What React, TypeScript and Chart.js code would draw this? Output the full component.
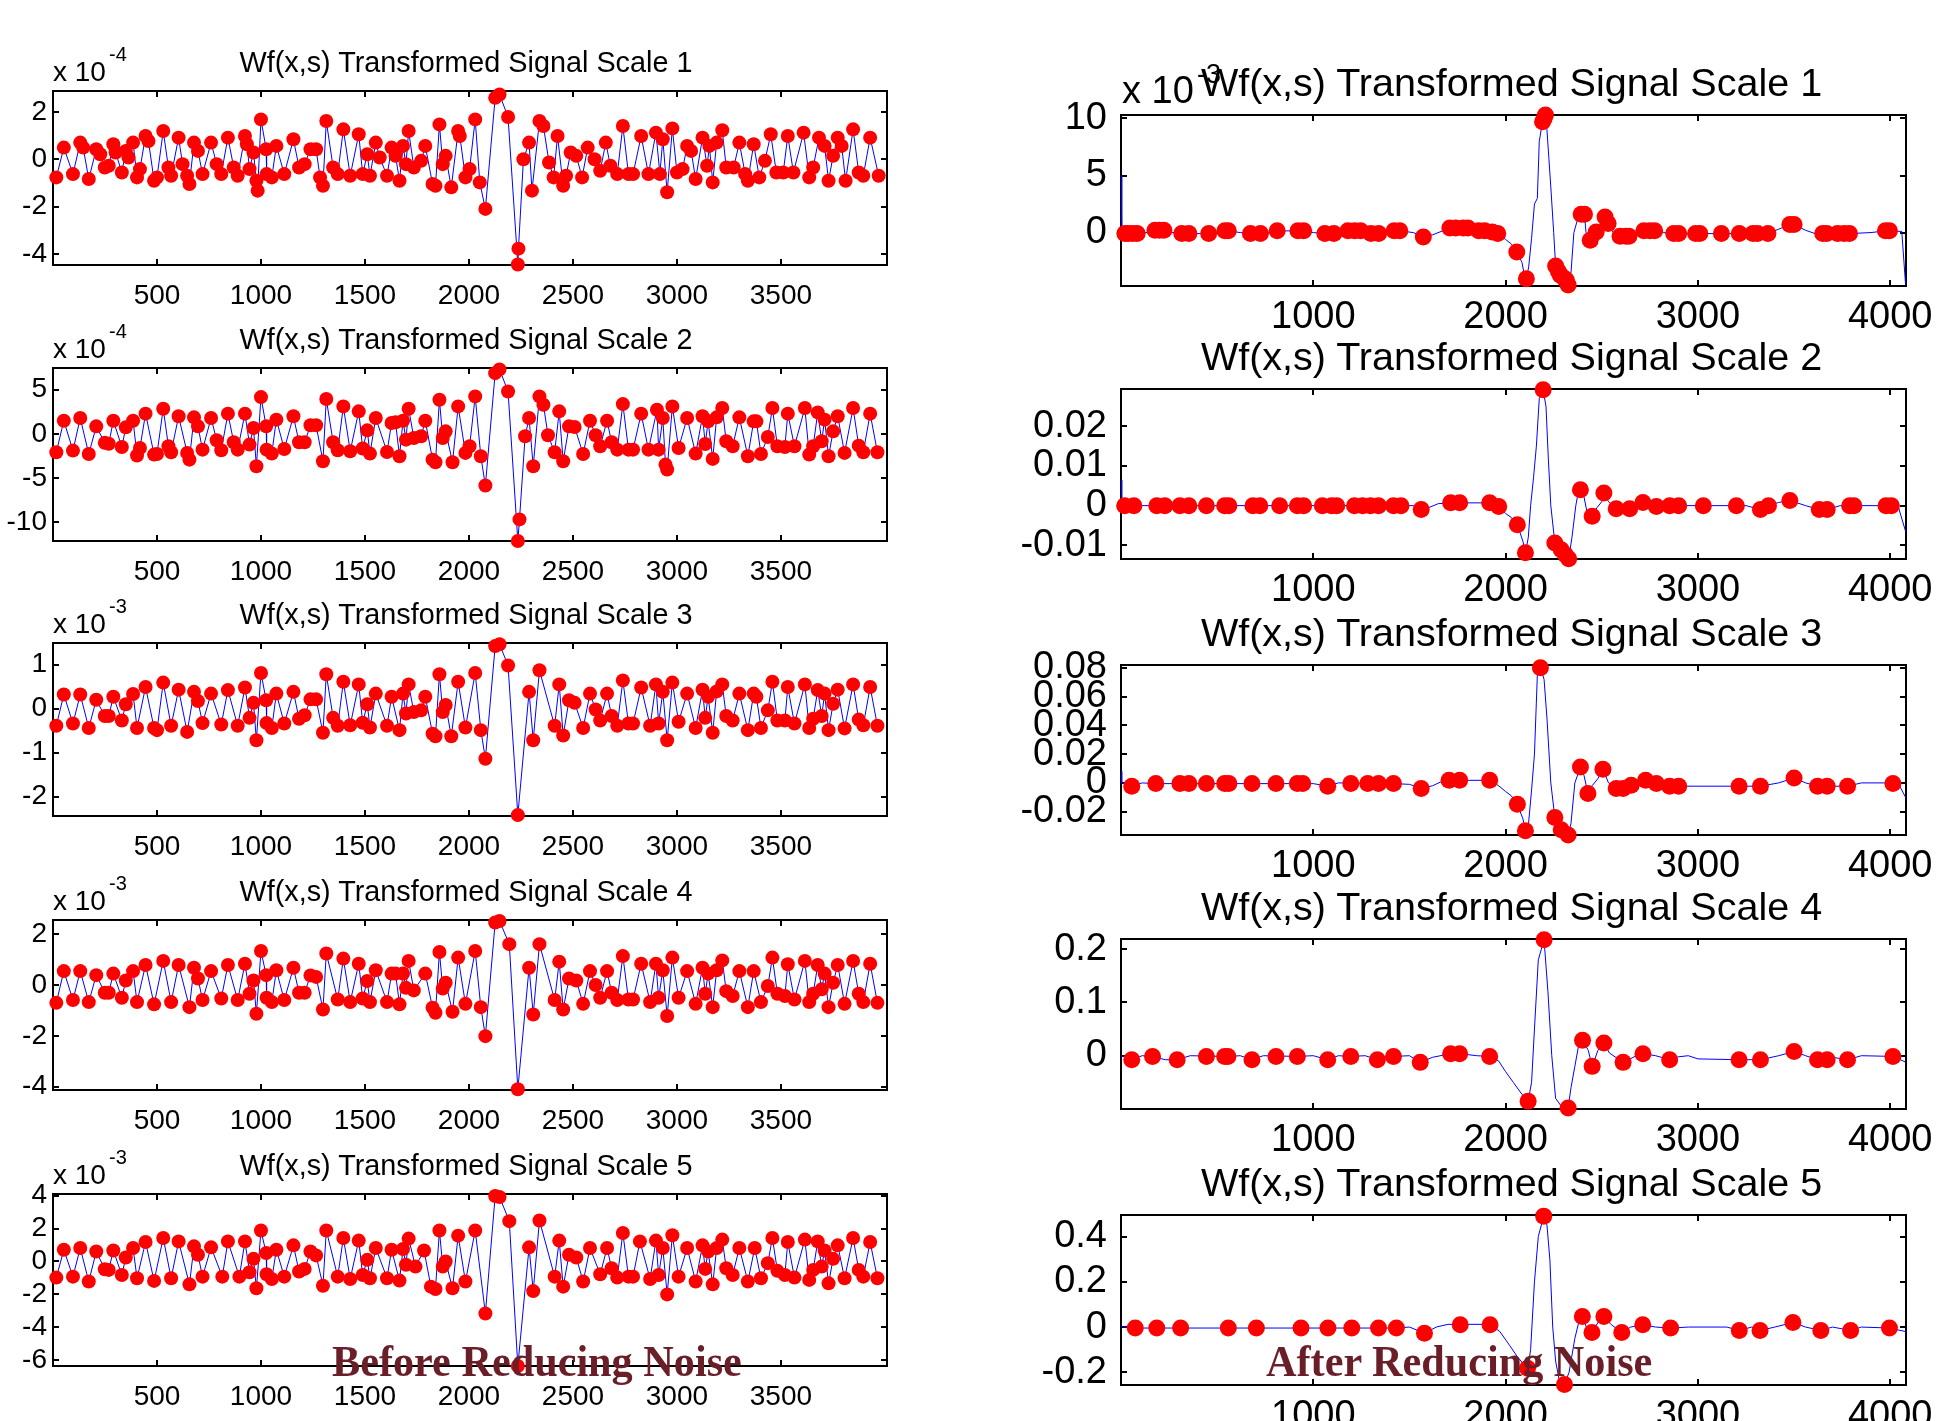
import React, { useEffect, useRef } from 'react';
import { Chart, registerables } from 'chart.js';

Chart.register(...registerables);

type Pt = [number, number];

// ---------------- Data: left column (before reducing noise), markers at local extrema ----------------
const L1_MARKERS: Pt[] = [[16,-0.77],[52,0.49],[96,-0.63],[131,0.7],[145,0.49],[172,-0.84],[208,0.42],[227,0.21],[249,-0.35],[268,-0.28],[290,0.63],[301,0.28],[331,-0.56],[350,0.35],[363,0.07],[385,0.7],[404,-0.77],[418,-0.42],[445,0.98],[459,0.77],[486,-0.91],[500,-0.77],[530,1.19],[555,-0.35],[568,-0.7],[604,0.91],[623,-0.21],[645,-0.7],[656,-1.05],[678,0.7],[697,0.35],[719,-0.63],[760,0.7],[787,-0.21],[809,-0.63],[841,0.91],[869,-0.35],[888,-0.7],[923,0.98],[932,0.63],[945,-0.42],[964,0.28],[978,-0.91],[984,-1.33],[1000,1.68],[1025,0.42],[1027,-0.63],[1052,-0.77],[1074,0.56],[1112,-0.63],[1156,0.84],[1183,-0.35],[1210,-0.21],[1238,0.42],[1265,0.42],[1284,-0.77],[1298,-1.12],[1314,1.61],[1347,-0.35],[1369,-0.63],[1396,1.26],[1429,-0.7],[1470,1.05],[1489,-0.63],[1511,0.21],[1524,-0.7],[1552,0.7],[1571,0.07],[1606,-0.7],[1628,0.49],[1647,0.14],[1666,-0.91],[1683,0.56],[1697,-0.21],[1710,1.19],[1735,-0.35],[1770,-0.07],[1790,0.56],[1825,-1.05],[1839,-1.12],[1858,1.47],[1874,-0.21],[1888,0.14],[1915,-1.19],[1948,1.19],[1956,0.98],[1983,-0.77],[2003,-0.42],[2030,1.68],[2052,-0.98],[2079,-2.1],[2126,2.59],[2147,2.73],[2188,1.78],[2235,-4.45],[2238,-3.78],[2262,0.0],[2289,0.7],[2303,-1.33],[2339,1.61],[2358,1.4],[2385,-0.14],[2407,-0.77],[2426,0.98],[2453,-1.12],[2467,-0.7],[2489,0.28],[2516,0.14],[2544,-0.77],[2571,0.49],[2604,0.0],[2631,-0.49],[2658,0.7],[2680,-0.28],[2713,-0.63],[2740,1.4],[2767,-0.63],[2789,-0.63],[2828,0.98],[2863,-0.63],[2899,1.12],[2918,-0.63],[2932,0.84],[2953,-1.4],[2978,1.3],[3000,-0.56],[3027,-0.42],[3049,0.56],[3068,0.35],[3090,-0.84],[3123,0.91],[3145,-0.28],[3156,0.56],[3172,-0.98],[3191,0.7],[3218,1.22],[3237,-0.35],[3273,-0.35],[3300,0.7],[3328,-0.63],[3341,-0.91],[3369,0.63],[3396,-0.77],[3423,-0.07],[3451,1.05],[3478,-0.56],[3511,-0.56],[3533,0.98],[3560,-0.56],[3609,1.12],[3636,-0.77],[3655,-0.35],[3683,0.91],[3710,0.56],[3729,-0.91],[3751,0.14],[3773,0.91],[3792,0.56],[3811,-0.91],[3847,1.26],[3874,-0.56],[3896,-0.7],[3929,0.91],[3970,-0.7]];

const L2_MARKERS: Pt[] = [[16,-2.07],[52,1.5],[96,-1.88],[131,1.8],[172,-2.26],[208,0.86],[249,-1.0],[268,-1.1],[290,1.5],[331,-1.47],[350,0.75],[385,1.5],[404,-2.44],[418,-1.58],[445,2.3],[486,-2.33],[500,-2.26],[530,2.86],[555,-1.39],[568,-2.07],[604,2.0],[645,-2.14],[656,-2.9],[678,1.88],[697,0.86],[719,-1.77],[760,1.8],[787,-0.71],[809,-1.84],[841,2.3],[869,-0.94],[888,-1.77],[923,2.3],[945,-1.2],[964,0.68],[978,-3.65],[1000,4.17],[1025,0.86],[1027,-1.77],[1052,-2.22],[1074,1.62],[1112,-1.69],[1156,2.0],[1183,-0.94],[1210,-0.94],[1238,0.98],[1265,0.98],[1298,-3.08],[1314,3.95],[1347,-0.94],[1369,-1.84],[1396,3.12],[1429,-1.95],[1470,2.56],[1489,-1.65],[1511,0.41],[1524,-2.22],[1552,1.8],[1606,-2.03],[1628,1.24],[1647,1.32],[1666,-2.52],[1683,1.5],[1697,-0.64],[1710,2.86],[1735,-0.45],[1770,-0.26],[1790,1.5],[1825,-2.9],[1839,-3.2],[1858,3.87],[1874,-0.45],[1888,0.3],[1921,-3.2],[1948,3.12],[1983,-2.14],[2003,-1.39],[2030,4.25],[2057,-2.52],[2079,-5.83],[2126,6.88],[2147,7.3],[2188,4.81],[2235,-12.1],[2243,-9.66],[2270,-0.26],[2289,1.8],[2309,-3.65],[2339,4.25],[2358,3.31],[2380,-0.15],[2412,-2.07],[2434,2.56],[2453,-3.08],[2481,0.86],[2508,0.79],[2549,-2.26],[2582,1.5],[2609,-0.15],[2631,-1.39],[2664,1.5],[2686,-0.94],[2713,-1.77],[2740,3.38],[2767,-1.77],[2789,-1.77],[2828,2.3],[2863,-1.77],[2904,2.74],[2912,-1.77],[2932,1.8],[2945,-3.46],[2953,-4.02],[2978,3.12],[3008,-1.58],[3049,1.8],[3090,-2.22],[3123,2.0],[3136,-1.13],[3150,1.43],[3172,-2.82],[3191,1.88],[3218,2.93],[3237,-0.83],[3268,-1.39],[3300,1.88],[3341,-2.52],[3369,1.43],[3382,1.43],[3404,-2.26],[3437,-0.34],[3459,2.93],[3483,-1.39],[3519,-1.47],[3533,2.3],[3565,-1.39],[3615,2.93],[3636,-2.33],[3655,-1.39],[3677,2.44],[3696,-0.83],[3710,1.62],[3729,-2.52],[3751,0.3],[3773,2.0],[3806,-2.14],[3847,2.93],[3874,-1.32],[3896,-2.07],[3929,2.3],[3964,-2.07]];

const L3_MARKERS: Pt[] = [[16,-0.39],[52,0.32],[96,-0.34],[131,0.32],[172,-0.44],[208,0.2],[249,-0.17],[268,-0.17],[290,0.27],[331,-0.27],[350,0.1],[385,0.33],[404,-0.44],[445,0.49],[486,-0.44],[500,-0.49],[530,0.59],[568,-0.39],[604,0.43],[645,-0.53],[678,0.38],[697,0.17],[719,-0.33],[760,0.34],[809,-0.36],[841,0.42],[888,-0.39],[923,0.48],[945,-0.21],[964,0.13],[978,-0.72],[1000,0.81],[1025,0.19],[1027,-0.33],[1052,-0.44],[1074,0.34],[1112,-0.34],[1156,0.38],[1183,-0.23],[1210,-0.15],[1238,0.21],[1265,0.21],[1298,-0.55],[1314,0.78],[1347,-0.21],[1369,-0.39],[1396,0.61],[1429,-0.38],[1470,0.55],[1489,-0.32],[1511,0.1],[1524,-0.43],[1552,0.34],[1606,-0.39],[1628,0.27],[1666,-0.49],[1683,0.34],[1697,-0.11],[1710,0.55],[1735,-0.08],[1770,-0.04],[1790,0.27],[1825,-0.57],[1839,-0.63],[1858,0.78],[1874,-0.08],[1888,0.08],[1915,-0.63],[1948,0.61],[1983,-0.43],[2030,0.81],[2057,-0.49],[2079,-1.14],[2126,1.42],[2147,1.46],[2188,0.98],[2235,-2.42],[2289,0.38],[2309,-0.72],[2339,0.87],[2412,-0.39],[2434,0.55],[2453,-0.61],[2481,0.19],[2508,0.13],[2549,-0.44],[2582,0.34],[2609,-0.02],[2631,-0.27],[2664,0.34],[2686,-0.17],[2713,-0.39],[2740,0.64],[2767,-0.34],[2789,-0.34],[2828,0.48],[2871,-0.39],[2899,0.55],[2912,-0.34],[2932,0.38],[2953,-0.72],[2978,0.59],[3008,-0.3],[3049,0.34],[3090,-0.44],[3123,0.43],[3136,-0.21],[3150,0.27],[3172,-0.55],[3191,0.39],[3218,0.55],[3237,-0.17],[3268,-0.27],[3300,0.34],[3341,-0.49],[3369,0.34],[3382,0.27],[3404,-0.44],[3437,-0.04],[3459,0.61],[3483,-0.27],[3519,-0.27],[3533,0.49],[3565,-0.34],[3615,0.55],[3636,-0.44],[3655,-0.23],[3677,0.42],[3696,-0.17],[3710,0.34],[3729,-0.49],[3751,0.11],[3773,0.43],[3806,-0.45],[3847,0.55],[3874,-0.25],[3896,-0.38],[3929,0.49],[3964,-0.39]];

const L4_MARKERS: Pt[] = [[16,-0.7],[52,0.55],[96,-0.59],[131,0.55],[172,-0.67],[208,0.39],[249,-0.3],[268,-0.3],[290,0.45],[331,-0.5],[350,0.18],[385,0.55],[404,-0.67],[445,0.79],[486,-0.76],[530,0.95],[568,-0.67],[604,0.79],[656,-0.87],[678,0.68],[697,0.26],[719,-0.59],[760,0.55],[809,-0.53],[841,0.79],[888,-0.59],[923,0.84],[945,-0.34],[964,0.18],[978,-1.13],[1000,1.34],[1025,0.39],[1027,-0.5],[1052,-0.67],[1074,0.58],[1112,-0.59],[1156,0.68],[1183,-0.3],[1210,-0.3],[1238,0.38],[1265,0.32],[1298,-0.96],[1314,1.24],[1369,-0.57],[1396,1.04],[1429,-0.67],[1470,0.84],[1489,-0.53],[1511,0.16],[1524,-0.67],[1552,0.58],[1606,-0.67],[1628,0.45],[1647,0.45],[1666,-0.76],[1683,0.45],[1697,-0.11],[1710,0.95],[1735,-0.21],[1790,0.45],[1825,-0.89],[1839,-1.09],[1858,1.3],[1874,-0.14],[1888,0.09],[1921,-1.05],[1948,1.08],[1983,-0.74],[2030,1.34],[2057,-0.87],[2079,-2.01],[2126,2.46],[2147,2.52],[2194,1.61],[2235,-4.1],[2289,0.68],[2309,-1.16],[2339,1.61],[2412,-0.59],[2434,0.92],[2453,-0.96],[2481,0.26],[2516,0.18],[2549,-0.74],[2582,0.55],[2609,0.0],[2631,-0.5],[2664,0.55],[2686,-0.3],[2713,-0.59],[2740,1.14],[2767,-0.57],[2789,-0.57],[2828,0.84],[2871,-0.67],[2899,0.84],[2912,-0.5],[2932,0.58],[2953,-1.22],[2978,1.08],[3008,-0.5],[3049,0.55],[3090,-0.74],[3123,0.68],[3136,-0.34],[3150,0.45],[3172,-0.87],[3191,0.58],[3218,0.97],[3237,-0.24],[3268,-0.43],[3300,0.55],[3341,-0.87],[3369,0.55],[3404,-0.67],[3437,-0.04],[3459,1.08],[3483,-0.34],[3519,-0.43],[3533,0.82],[3565,-0.57],[3615,0.95],[3636,-0.67],[3655,-0.34],[3677,0.79],[3696,-0.17],[3710,0.45],[3729,-0.87],[3751,0.09],[3773,0.79],[3806,-0.74],[3847,0.95],[3874,-0.34],[3896,-0.67],[3929,0.84],[3964,-0.7]];

const L5_MARKERS: Pt[] = [[16,-0.98],[52,0.71],[96,-0.92],[131,0.82],[172,-1.22],[208,0.61],[249,-0.47],[268,-0.51],[290,0.67],[331,-0.82],[350,0.24],[385,0.82],[404,-1.02],[445,1.18],[486,-1.18],[530,1.43],[568,-1.02],[604,1.22],[656,-1.39],[678,0.92],[697,0.41],[719,-0.92],[760,0.86],[814,-0.92],[841,1.22],[896,-0.92],[923,1.22],[945,-0.65],[964,0.16],[978,-1.63],[1000,1.88],[1025,0.51],[1027,-0.78],[1052,-1.06],[1074,0.71],[1112,-0.92],[1156,0.98],[1183,-0.61],[1210,-0.45],[1238,0.61],[1265,0.37],[1298,-1.47],[1314,1.88],[1369,-0.92],[1396,1.43],[1429,-1.06],[1470,1.27],[1489,-0.82],[1511,0.1],[1524,-1.02],[1552,0.82],[1606,-1.02],[1628,0.71],[1666,-1.16],[1683,0.76],[1697,-0.2],[1710,1.39],[1743,-0.31],[1784,0.67],[1817,-1.53],[1839,-1.67],[1858,1.88],[1874,-0.31],[1888,0.0],[1921,-1.63],[1948,1.57],[1983,-1.22],[2030,1.88],[2079,-3.16],[2126,3.98],[2147,3.92],[2194,2.45],[2235,-6.35],[2289,0.86],[2309,-1.8],[2339,2.49],[2412,-0.92],[2434,1.27],[2453,-1.53],[2481,0.41],[2516,0.24],[2549,-1.22],[2582,0.82],[2631,-0.78],[2664,0.82],[2686,-0.41],[2713,-0.98],[2740,1.73],[2767,-0.92],[2789,-0.92],[2822,1.22],[2871,-1.06],[2899,1.27],[2912,-0.82],[2932,0.82],[2953,-2.0],[2978,1.59],[3008,-0.92],[3049,0.82],[3090,-1.22],[3123,0.98],[3136,-0.45],[3150,0.61],[3172,-1.39],[3191,0.82],[3218,1.33],[3237,-0.41],[3268,-0.82],[3300,0.82],[3341,-1.22],[3374,0.82],[3404,-1.02],[3437,-0.1],[3459,1.43],[3483,-0.57],[3519,-0.82],[3533,1.18],[3565,-0.98],[3615,1.33],[3636,-1.12],[3655,-0.51],[3677,1.22],[3696,-0.31],[3710,0.67],[3729,-1.33],[3751,0.16],[3773,0.98],[3806,-1.02],[3847,1.43],[3874,-0.51],[3896,-0.92],[3929,1.18],[3964,-1.02]];

// ---------------- Data: right column (after reducing noise) ----------------
const R1_LINE: Pt[] = [[0,5.0],[4,0.0],[20,-0.09],[84,-0.09],[130,0.0],[177,0.2],[223,0.2],[270,0.0],[316,-0.09],[456,-0.09],[500,0.0],[540,0.15],[558,0.15],[620,0.0],[673,-0.09],[725,-0.09],[770,0.0],[812,0.15],[950,0.15],[1000,0.0],[1060,-0.09],[1107,-0.09],[1150,0.0],[1180,0.15],[1246,0.15],[1280,0.0],[1340,-0.09],[1380,0.0],[1420,0.15],[1450,0.15],[1520,0.0],[1572,-0.38],[1620,-0.2],[1680,0.2],[1710,0.41],[1804,0.41],[1860,0.15],[1930,0.05],[1959,-0.09],[2000,-0.6],[2030,-1.0],[2058,-1.7],[2085,-2.6],[2095,-3.5],[2108,-4.04],[2120,-3.0],[2135,-0.5],[2150,2.5],[2165,3.0],[2175,8.0],[2192,9.71],[2207,10.3],[2215,9.0],[2225,6.5],[2235,4.0],[2250,0.0],[2260,-2.92],[2285,-3.74],[2325,-4.6],[2340,-3.5],[2355,0.0],[2375,1.2],[2393,1.61],[2410,1.61],[2418,0.0],[2440,-0.67],[2460,-0.3],[2471,0.06],[2490,0.5],[2517,1.37],[2533,0.79],[2560,0.0],[2595,-0.32],[2641,-0.32],[2680,0.0],[2719,0.15],[2775,0.15],[2820,0.0],[2874,-0.09],[3364,-0.09],[3420,0.3],[3478,0.7],[3500,0.7],[3560,0.2],[3610,-0.09],[3788,-0.09],[3900,0.0],[3975,0.15],[3996,0.15],[4060,0.1],[4080,-4.6]];
const R1_MARKERS: Pt[] = [[20,-0.09],[37,-0.09],[60,-0.09],[84,-0.09],[177,0.2],[200,0.2],[223,0.2],[316,-0.09],[353,-0.09],[456,-0.09],[540,0.15],[558,0.15],[673,-0.09],[725,-0.09],[812,0.15],[920,0.15],[950,0.15],[1060,-0.09],[1107,-0.09],[1180,0.15],[1215,0.15],[1246,0.15],[1300,-0.09],[1340,-0.09],[1420,0.15],[1450,0.15],[1572,-0.38],[1710,0.41],[1740,0.41],[1780,0.41],[1804,0.41],[1860,0.15],[1891,0.15],[1930,0.05],[1959,-0.09],[2058,-1.7],[2108,-4.04],[2192,9.71],[2200,10.0],[2207,10.3],[2260,-2.92],[2275,-3.4],[2285,-3.74],[2305,-4.0],[2316,-4.18],[2325,-4.6],[2393,1.61],[2410,1.61],[2440,-0.67],[2471,0.06],[2517,1.37],[2533,0.79],[2595,-0.32],[2625,-0.32],[2641,-0.32],[2719,0.15],[2750,0.15],[2775,0.15],[2874,-0.09],[2900,-0.09],[2988,-0.09],[3010,-0.09],[3122,-0.09],[3215,-0.09],[3286,-0.09],[3310,-0.09],[3364,-0.09],[3478,0.7],[3500,0.7],[3649,-0.09],[3670,-0.09],[3726,-0.09],[3760,-0.09],[3788,-0.09],[3975,0.15],[3996,0.15]];

const R2_LINE: Pt[] = [[0,0.0065],[4,0],[1520,0],[1561,-0.001],[1600,-0.0005],[1650,0.0005],[1714,0.0007],[1917,0.0007],[1964,-0.0002],[2000,-0.002],[2030,-0.003],[2061,-0.0048],[2090,-0.009],[2103,-0.0119],[2118,-0.008],[2130,0.0],[2145,0.007],[2160,0.015],[2175,0.027],[2195,0.0292],[2210,0.025],[2222,0.012],[2235,0.0],[2256,-0.0094],[2289,-0.0111],[2311,-0.0124],[2328,-0.0134],[2345,-0.008],[2365,0.0],[2380,0.004],[2400,0.004],[2425,-0.002],[2450,-0.0027],[2475,-0.0005],[2500,0.001],[2511,0.0032],[2535,0.001],[2575,-0.0008],[2645,-0.0008],[2680,0.0],[2714,0.0008],[2784,-0.0002],[2853,0],[3250,0],[3325,-0.001],[3367,0],[3420,0.0008],[3478,0.0013],[3560,0.0],[3631,-0.001],[3672,-0.001],[3740,0.0],[4040,0],[4080,-0.0065]];
const R2_MARKERS: Pt[] = [[19,0],[67,0],[186,0],[228,0],[306,0],[353,0],[444,0],[539,0],[561,0],[686,0],[722,0],[825,0],[917,0],[950,0],[1047,0],[1095,0],[1122,0],[1214,0],[1256,0],[1297,0],[1339,0],[1417,0],[1456,0],[1561,-0.001],[1714,0.0007],[1761,0.0007],[1917,0.0007],[1964,-0.0002],[2061,-0.0048],[2103,-0.0119],[2195,0.0292],[2256,-0.0094],[2289,-0.0111],[2311,-0.0124],[2328,-0.0134],[2389,0.004],[2450,-0.0027],[2511,0.0032],[2575,-0.0008],[2645,-0.0008],[2714,0.0008],[2784,-0.0002],[2853,0],[2900,0],[3028,0],[3200,0],[3325,-0.001],[3367,0],[3478,0.0013],[3631,-0.001],[3672,-0.001],[3789,0],[3811,0],[3978,0],[4006,0]];

const R3_LINE: Pt[] = [[0,0.008],[4,0],[56,-0.0023],[110,0],[181,-0.0005],[1000,-0.0005],[1075,-0.0023],[1130,0],[1417,-0.0005],[1500,-0.001],[1561,-0.0039],[1620,-0.002],[1660,0.0005],[1706,0.0018],[1917,0.0018],[1964,-0.002],[2000,-0.006],[2030,-0.009],[2061,-0.0149],[2090,-0.025],[2103,-0.0333],[2118,-0.03],[2135,-0.005],[2150,0.02],[2165,0.075],[2181,0.08],[2200,0.072],[2215,0.045],[2235,0.0],[2256,-0.0241],[2289,-0.0326],[2325,-0.0362],[2340,-0.028],[2360,0.0],[2389,0.011],[2408,0.005],[2428,-0.0074],[2450,-0.002],[2480,0.003],[2506,0.0094],[2535,0.0],[2575,-0.0039],[2611,-0.0039],[2653,-0.0016],[2700,0.001],[2728,0.0018],[2784,-0.0005],[2853,-0.0023],[3325,-0.0023],[3420,0.0],[3500,0.0034],[3560,0.0],[3622,-0.0023],[3778,-0.0023],[3850,0.0],[4040,0.0],[4080,-0.01]];
const R3_MARKERS: Pt[] = [[56,-0.0023],[181,-0.0005],[306,-0.0005],[353,-0.0005],[444,-0.0005],[539,-0.0005],[561,-0.0005],[681,-0.0005],[806,-0.0005],[917,-0.0005],[945,-0.0005],[1075,-0.0023],[1195,-0.0005],[1283,-0.0005],[1339,-0.0005],[1417,-0.0005],[1561,-0.0039],[1706,0.0018],[1761,0.0018],[1917,0.0018],[2061,-0.0149],[2103,-0.0333],[2181,0.08],[2256,-0.0241],[2289,-0.0326],[2325,-0.0362],[2389,0.011],[2428,-0.0074],[2506,0.0094],[2575,-0.0039],[2611,-0.0039],[2653,-0.0016],[2728,0.0018],[2784,-0.0005],[2853,-0.0023],[2900,-0.0023],[3214,-0.0023],[3325,-0.0023],[3500,0.0034],[3622,-0.0023],[3672,-0.0023],[3778,-0.0023],[4014,-0.0005]];

const R4_LINE: Pt[] = [[0,0.0],[56,-0.0075],[110,0.0],[164,-0.0013],[230,-0.0075],[292,-0.0075],[360,0.0],[556,-0.0013],[620,0.0],[681,-0.0075],[740,0.0],[917,-0.0013],[1000,0.0],[1075,-0.0075],[1130,0.0],[1195,-0.0013],[1270,0.0],[1333,-0.0075],[1417,-0.0013],[1500,0.0],[1556,-0.0125],[1620,-0.003],[1714,0.0038],[1761,0.0038],[1850,0.0],[1917,-0.0013],[1964,-0.01],[2000,-0.03],[2040,-0.05],[2080,-0.07],[2117,-0.0856],[2135,-0.05],[2150,0.05],[2170,0.18],[2200,0.2175],[2220,0.12],[2240,0.0],[2260,-0.08],[2290,-0.095],[2325,-0.098],[2340,-0.06],[2360,-0.02],[2380,0.02],[2400,0.029],[2430,0.01],[2450,-0.02],[2480,0.01],[2511,0.024],[2540,0.005],[2611,-0.0125],[2680,0.0],[2714,0.0038],[2780,0.0],[2853,-0.0075],[2900,-0.002],[2950,0.0],[3000,-0.006],[3214,-0.0075],[3325,-0.0075],[3420,0.0],[3500,0.008],[3560,0.0],[3622,-0.0075],[3700,-0.003],[3778,-0.0075],[3850,0.0],[4014,-0.0013],[4080,-0.012]];
const R4_MARKERS: Pt[] = [[56,-0.0075],[164,-0.0013],[292,-0.0075],[444,-0.0013],[539,-0.0013],[556,-0.0013],[681,-0.0075],[806,-0.0013],[917,-0.0013],[1075,-0.0075],[1195,-0.0013],[1333,-0.0075],[1417,-0.0013],[1556,-0.0125],[1714,0.0038],[1761,0.0038],[1917,-0.0013],[2117,-0.0856],[2200,0.2175],[2325,-0.098],[2400,0.029],[2450,-0.02],[2511,0.024],[2611,-0.0125],[2714,0.0038],[2853,-0.0075],[3214,-0.0075],[3325,-0.0075],[3500,0.008],[3622,-0.0075],[3672,-0.0075],[3778,-0.0075],[4014,-0.0013]];

const R5_LINE: Pt[] = [[0,0.005],[10,0.0],[74,-0.0044],[1432,-0.0044],[1500,0.0],[1578,-0.027],[1640,0.0],[1700,0.012],[1919,0.012],[1970,-0.02],[2020,-0.08],[2060,-0.13],[2090,-0.16],[2114,-0.19],[2130,-0.1],[2150,0.2],[2170,0.4],[2198,0.49],[2215,0.45],[2230,0.3],[2245,0.0],[2260,-0.15],[2280,-0.24],[2306,-0.254],[2330,-0.2],[2360,-0.05],[2380,0.02],[2399,0.047],[2420,0.0],[2449,-0.024],[2480,0.02],[2511,0.047],[2550,0.01],[2604,-0.024],[2650,0.0],[2713,0.0104],[2780,0.0],[2858,-0.0044],[2950,0.0],[3150,0.0],[3215,-0.015],[3280,0.0],[3323,-0.015],[3400,0.0],[3494,0.02],[3560,0.0],[3639,-0.015],[3700,0.0],[3794,-0.015],[3850,0.0],[3996,-0.0044],[4080,-0.02]];
const R5_MARKERS: Pt[] = [[74,-0.0044],[186,-0.0044],[310,-0.0044],[558,-0.0044],[704,-0.0044],[936,-0.0044],[1076,-0.0044],[1200,-0.0044],[1339,-0.0044],[1432,-0.0044],[1578,-0.027],[1764,0.0104],[1919,0.0104],[2114,-0.182],[2198,0.49],[2306,-0.254],[2399,0.047],[2449,-0.024],[2511,0.047],[2604,-0.024],[2713,0.0104],[2858,-0.0044],[3215,-0.015],[3323,-0.015],[3494,0.02],[3639,-0.015],[3794,-0.015],[3996,-0.0044]];

// ---------------- Axes / tick labels ----------------
const LEFT_X_RANGE = [0, 4010];
const RIGHT_X_RANGE = [0, 4082];
const LEFT_X_TICKS = [500, 1000, 1500, 2000, 2500, 3000, 3500];
const RIGHT_X_TICKS = [1000, 2000, 3000, 4000];

const LEFT_Y_RANGES: Pt[] = [[-4.47, 2.88], [-12.1, 7.46], [-2.44, 1.49], [-4.13, 2.56], [-6.35, 4.1]];
const LEFT_Y_TICKS = [[-4, -2, 0, 2], [-10, -5, 0, 5], [-2, -1, 0, 1], [-4, -2, 0, 2], [-6, -4, -2, 0, 2, 4]];
const LEFT_EXPONENTS = ['-4', '-4', '-3', '-3', '-3'];

const RIGHT_Y_RANGES: Pt[] = [[-4.68, 10.3], [-0.01345, 0.0294], [-0.0362, 0.0819], [-0.1, 0.219], [-0.256, 0.495]];
const RIGHT_Y_TICKS = [[0, 5, 10], [-0.01, 0, 0.01, 0.02], [-0.02, 0, 0.02, 0.04, 0.06, 0.08], [0, 0.1, 0.2], [-0.2, 0, 0.2, 0.4]];
const RIGHT_EXPONENTS = ['-3', '', '', '', ''];

const TITLE_TEXT = 'Wf(x,s) Transformed Signal Scale';
const SCALES = [1, 2, 3, 4, 5];
const CAPTION_BEFORE = 'Before Reducing Noise';
const CAPTION_AFTER = 'After Reducing Noise';

const LEFT_MARKERS = [L1_MARKERS, L2_MARKERS, L3_MARKERS, L4_MARKERS, L5_MARKERS];
const RIGHT_LINES = [R1_LINE, R2_LINE, R3_LINE, R4_LINE, R5_LINE];
const RIGHT_MARKERS = [R1_MARKERS, R2_MARKERS, R3_MARKERS, R4_MARKERS, R5_MARKERS];

// ---------------- Layout (page pixels) ----------------
const LEFT_PLOT_X = [53, 887];
const LEFT_PLOT_Y = [[91, 265], [368, 541], [643, 816], [920, 1090], [1194, 1366]];
const RIGHT_PLOT_X = [1121, 1906];
const RIGHT_PLOT_Y = [[115, 286], [389, 559], [665, 835], [939, 1109], [1215, 1385]];

const FONT = '"Liberation Sans", Arial, Helvetica, sans-serif';

interface SideStyle {
  axisW: number; padTop: number; padRight: number; axisH: number;
  tickFont: number; yPad: number; xPad: number; radius: number;
}
const LEFT_STYLE: SideStyle = { axisW: 52, padTop: 22, padRight: 14, axisH: 54, tickFont: 28, yPad: 6, xPad: 14, radius: 7 };
const RIGHT_STYLE: SideStyle = { axisW: 130, padTop: 28, padRight: 36, axisH: 62, tickFont: 38, yPad: 14, xPad: 9, radius: 8.5 };

const boxPlugin = {
  id: 'matlabBox',
  beforeDatasetsDraw(chart: any) {
    const { ctx, chartArea } = chart;
    const { left, top, right, bottom } = chartArea;
    const xs = chart.scales.x;
    const ys = chart.scales.y;
    const tl = 6;
    ctx.save();
    ctx.strokeStyle = '#000';
    ctx.lineWidth = 2;
    ctx.strokeRect(left, top, right - left, bottom - top);
    ctx.beginPath();
    xs.ticks.forEach((t: any) => {
      const px = Math.round(xs.getPixelForValue(t.value));
      ctx.moveTo(px, bottom); ctx.lineTo(px, bottom - tl);
      ctx.moveTo(px, top); ctx.lineTo(px, top + tl);
    });
    ys.ticks.forEach((t: any) => {
      const py = Math.round(ys.getPixelForValue(t.value));
      ctx.moveTo(left, py); ctx.lineTo(left + tl, py);
      ctx.moveTo(right, py); ctx.lineTo(right - tl, py);
    });
    ctx.stroke();
    ctx.restore();
  },
};

interface PanelProps {
  line: Pt[]; markers: Pt[];
  xRange: number[]; xTicks: number[];
  yRange: Pt; yTicks: number[];
  px: number[]; py: number[]; st: SideStyle;
}

function Panel(p: PanelProps) {
  const ref = useRef<HTMLCanvasElement | null>(null);
  const { st } = p;
  const cl = p.px[0] - st.axisW;
  const ct = p.py[0] - st.padTop;
  const cw = p.px[1] - p.px[0] + st.axisW + st.padRight;
  const ch = p.py[1] - p.py[0] + st.padTop + st.axisH;

  useEffect(() => {
    if (!ref.current) return;
    const zeroPad = (s: any) => { s.paddingLeft = 0; s.paddingRight = 0; s.paddingTop = 0; s.paddingBottom = 0; };
    const chart = new Chart(ref.current, {
      type: 'line',
      data: {
        datasets: [
          {
            data: p.markers.map(([x, y]) => ({ x, y })),
            showLine: false,
            pointRadius: st.radius,
            pointHoverRadius: st.radius,
            pointBackgroundColor: '#ff0000',
            pointBorderColor: '#ff0000',
            pointBorderWidth: 0,
            clip: false,
            order: 1,
          } as any,
          {
            data: p.line.map(([x, y]) => ({ x, y })),
            borderColor: '#0000ff',
            borderWidth: 1,
            pointRadius: 0,
            fill: false,
            tension: 0,
            order: 2,
          } as any,
        ],
      },
      options: {
        animation: false,
        responsive: false,
        maintainAspectRatio: false,
        devicePixelRatio: 1,
        events: [],
        layout: { padding: { top: st.padTop, right: st.padRight, left: 0, bottom: 0 } },
        plugins: { legend: { display: false }, tooltip: { enabled: false }, title: { display: false } },
        scales: {
          x: {
            type: 'linear',
            min: p.xRange[0],
            max: p.xRange[1],
            afterBuildTicks: (s: any) => { s.ticks = p.xTicks.map((v) => ({ value: v })); },
            afterFit: (s: any) => { s.height = st.axisH; zeroPad(s); },
            grid: { display: false, drawTicks: false },
            border: { display: false },
            ticks: {
              autoSkip: false, maxRotation: 0, minRotation: 0,
              padding: st.xPad, color: '#000',
              font: { family: FONT, size: st.tickFont },
              callback: (v: any) => String(v),
            },
          },
          y: {
            type: 'linear',
            min: p.yRange[0],
            max: p.yRange[1],
            afterBuildTicks: (s: any) => { s.ticks = p.yTicks.map((v) => ({ value: v })); },
            afterFit: (s: any) => { s.width = st.axisW; zeroPad(s); },
            grid: { display: false, drawTicks: false },
            border: { display: false },
            ticks: {
              autoSkip: false, padding: st.yPad, color: '#000',
              font: { family: FONT, size: st.tickFont },
              callback: (v: any) => String(v),
            },
          },
        },
      } as any,
      plugins: [boxPlugin],
    });
    return () => chart.destroy();
  }, []);

  return (
    <canvas
      ref={ref}
      width={cw}
      height={ch}
      style={{ position: 'absolute', left: cl, top: ct, width: cw, height: ch }}
    />
  );
}

function Txt(props: { x: number; y: number; size: number; text: string; center?: boolean }) {
  return (
    <div
      style={{
        position: 'absolute', left: props.x, top: props.y,
        transform: props.center ? 'translate(-50%, -50%)' : 'translateY(-50%)',
        fontFamily: FONT, fontSize: props.size, lineHeight: 1, whiteSpace: 'nowrap', color: '#000',
      }}
    >
      {props.text}
    </div>
  );
}

export default function App() {
  const lcx = (LEFT_PLOT_X[0] + LEFT_PLOT_X[1]) / 2;
  const rcx = (RIGHT_PLOT_X[0] + RIGHT_PLOT_X[1]) / 2;
  return (
    <div style={{ position: 'absolute', left: 0, top: 0, width: 1942, height: 1421, overflow: 'hidden', background: '#fff' }}>
      {SCALES.map((s, i) => (
        <React.Fragment key={'L' + s}>
          <Panel
            line={LEFT_MARKERS[i]} markers={LEFT_MARKERS[i]}
            xRange={LEFT_X_RANGE} xTicks={LEFT_X_TICKS}
            yRange={LEFT_Y_RANGES[i]} yTicks={LEFT_Y_TICKS[i]}
            px={LEFT_PLOT_X} py={LEFT_PLOT_Y[i]} st={LEFT_STYLE}
          />
          <Txt x={lcx - 4} y={LEFT_PLOT_Y[i][0] - 29} size={28.8} text={`${TITLE_TEXT} ${s}`} center />
          <Txt x={53} y={LEFT_PLOT_Y[i][0] - 19} size={28} text="x 10" />
          <Txt x={109} y={LEFT_PLOT_Y[i][0] - 37} size={20} text={LEFT_EXPONENTS[i]} />
        </React.Fragment>
      ))}
      {SCALES.map((s, i) => (
        <React.Fragment key={'R' + s}>
          <Panel
            line={RIGHT_LINES[i]} markers={RIGHT_MARKERS[i]}
            xRange={RIGHT_X_RANGE} xTicks={RIGHT_X_TICKS}
            yRange={RIGHT_Y_RANGES[i]} yTicks={RIGHT_Y_TICKS[i]}
            px={RIGHT_PLOT_X} py={RIGHT_PLOT_Y[i]} st={RIGHT_STYLE}
          />
          <Txt x={rcx - 2} y={RIGHT_PLOT_Y[i][0] - 32} size={39.5} text={`${TITLE_TEXT} ${s}`} center />
          {RIGHT_EXPONENTS[i] ? (
            <>
              <Txt x={1122} y={RIGHT_PLOT_Y[i][0] - 25} size={38} text="x 10" />
              <Txt x={1197} y={RIGHT_PLOT_Y[i][0] - 41} size={27} text={RIGHT_EXPONENTS[i]} />
            </>
          ) : null}
        </React.Fragment>
      ))}
      <div style={{ position: 'absolute', left: 332, top: 1340, fontFamily: '"Liberation Serif", "Times New Roman", serif', fontWeight: 'bold', fontSize: 44, lineHeight: '44px', color: '#6a1e28', whiteSpace: 'nowrap', transform: 'scaleX(0.96)', transformOrigin: 'left center' }}>
        {CAPTION_BEFORE}
      </div>
      <div style={{ position: 'absolute', left: 1266, top: 1340, fontFamily: '"Liberation Serif", "Times New Roman", serif', fontWeight: 'bold', fontSize: 44, lineHeight: '44px', color: '#6a1e28', whiteSpace: 'nowrap', transform: 'scaleX(0.96)', transformOrigin: 'left center' }}>
        {CAPTION_AFTER}
      </div>
    </div>
  );
}
